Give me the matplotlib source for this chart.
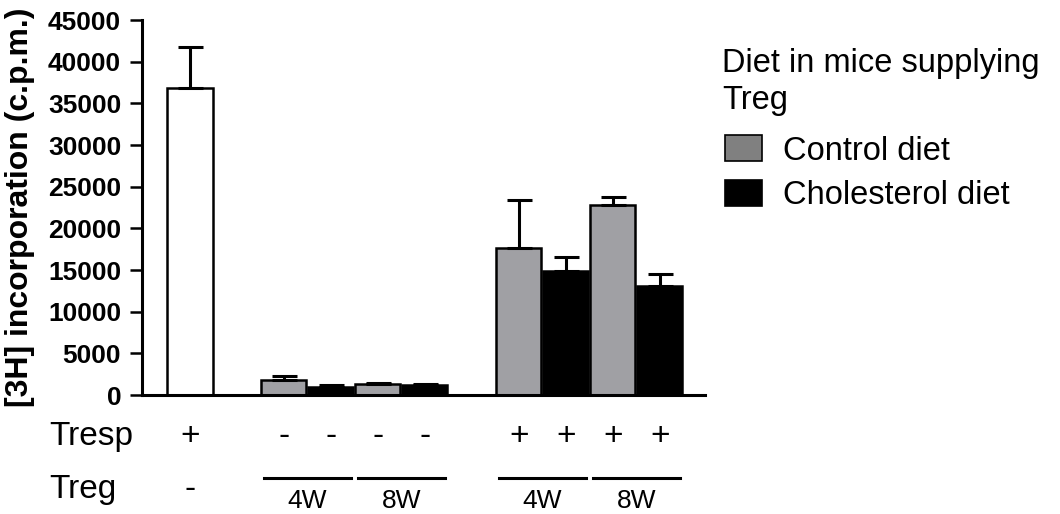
import matplotlib
matplotlib.use("Agg")
import matplotlib.pyplot as plt
from matplotlib.patches import Patch
from matplotlib.transforms import blended_transform_factory

plt.rcParams['font.family'] = ['Liberation Sans', 'DejaVu Sans']

# dati
posizioni = [0, 2, 3, 4, 5, 7, 8, 9, 10]
medie = [36800, 1800, 1000, 1300, 1200, 17600, 14900, 22800, 13100]
errori = [5000, 450, 150, 200, 100, 5800, 1700, 1000, 1400]
colori = ['white', '#a0a0a4', 'black', '#a0a0a4', 'black',
          '#a0a0a4', 'black', '#a0a0a4', 'black']
tresp = ['+', '-', '-', '-', '-', '+', '+', '+', '+']
gruppi_treg = [2.5, 4.5, 7.5, 9.5]
etichette_treg = ['4W', '8W', '4W', '8W']
yticks = [0, 5000, 10000, 15000, 20000, 25000, 30000, 35000, 40000, 45000]

fig = plt.figure(figsize=(10.6, 5.14), dpi=100)
ax = fig.add_axes([0.134, 0.2315, 0.531, 0.7295])

ax.bar(posizioni, medie, width=0.96, color=colori, edgecolor='black',
       linewidth=1.8, zorder=2)
ax.errorbar(posizioni, medie, yerr=[[0] * len(errori), errori], fmt='none',
            ecolor='black', elinewidth=2.2, capsize=9, capthick=2.2, zorder=3)

ax.set_xlim(-1.02, 10.96)
ax.set_ylim(0, 45000)
ax.set_yticks(yticks)
ax.set_yticklabels([str(v) for v in yticks], fontsize=19, fontweight='bold')
ax.set_xticks([])
ax.tick_params(axis='y', direction='out', length=9, width=1.8, pad=6)
for lato in ['top', 'right']:
    ax.spines[lato].set_visible(False)
for lato in ['left', 'bottom']:
    ax.spines[lato].set_linewidth(2.2)

fig.text(0.019, 0.5965, '[3H] incorporation (c.p.m.)', rotation=90,
         ha='center', va='center', fontsize=23, fontweight='bold')

# righe sotto l'asse
tr = blended_transform_factory(ax.transData, fig.transFigure)
fig.text(0.046, 0.150, 'Tresp', ha='left', va='center', fontsize=24)
fig.text(0.046, 0.047, 'Treg', ha='left', va='center', fontsize=24)
for x, s in zip(posizioni, tresp):
    ax.text(x, 0.150, s, transform=tr, ha='center', va='center', fontsize=24)
ax.text(posizioni[0], 0.047, '-', transform=tr, ha='center', va='center', fontsize=24)
for x, s in zip(gruppi_treg, etichette_treg):
    ax.plot([x - 0.92, x + 0.92], [0.070, 0.070], color='black', linewidth=2.2,
            transform=tr, clip_on=False)
    ax.text(x, 0.025, s, transform=tr, ha='center', va='center', fontsize=19)

# legenda
fig.text(0.681, 0.907, 'Diet in mice supplying\nTreg', ha='left', va='top',
         fontsize=23.5, linespacing=1.25)
maniglie = [Patch(facecolor='#808080', edgecolor='black', linewidth=1.2),
            Patch(facecolor='black', edgecolor='black', linewidth=1.2)]
fig.legend(maniglie, ['Control diet', 'Cholesterol diet'], fontsize=23.5,
           loc='upper left', bbox_to_anchor=(0.684, 0.737), frameon=False,
           handlelength=1.13, handleheight=0.86,
           handletextpad=0.64, labelspacing=0.4, borderpad=0, borderaxespad=0)

fig.savefig('out.png', dpi=100)
